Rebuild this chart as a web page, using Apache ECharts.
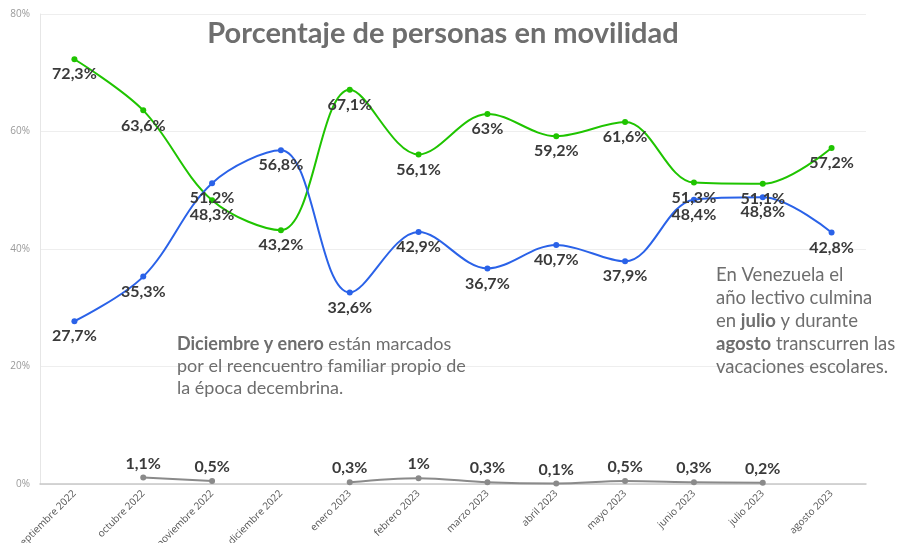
<!DOCTYPE html>
<html><head><meta charset="utf-8">
<script src="https://cdn.jsdelivr.net/npm/echarts@6/dist/echarts.min.js"></script>
<style>html,body{margin:0;padding:0;background:#fff}#c{width:911px;height:543px}</style>
</head><body><div id="c"></div>
<script>
const categories = ['septiembre 2022','octubre 2022','noviembre 2022','diciembre 2022','enero 2023','febrero 2023','marzo 2023','abril 2023','mayo 2023','junio 2023','julio 2023','agosto 2023'];
const greenValues = [72.3, 63.6, 48.3, 43.2, 67.1, 56.1, 63, 59.2, 61.6, 51.3, 51.1, 57.2];
const blueValues = [27.7, 35.3, 51.2, 56.8, 32.6, 42.9, 36.7, 40.7, 37.9, 48.4, 48.8, 42.8];
const grayValues = [null, 1.1, 0.5, null, 0.3, 1, 0.3, 0.1, 0.5, 0.3, 0.2, null];
const yTicks = [0, 20, 40, 60, 80];

const fmt = p => String(p.value).replace('.', ',') + '%';
const lbl = (pos, d) => ({show:true, position:pos, distance:d, formatter:fmt, fontFamily:'Lato', fontWeight:'bold', fontSize:16, color:'#3a3a3a'});

const chart = echarts.init(document.getElementById('c'));
chart.setOption({
  animation:false,
  title:{text:'Porcentaje de personas en movilidad', left:438, top:14, textAlign:'center',
    textStyle:{fontFamily:'Lato', fontWeight:'bold', fontSize:29, color:'#6e6e6e'}},
  grid:{left:40, right:45, top:14, bottom:59, outerBoundsMode:'none', containLabel:false},
  xAxis:{type:'category', data:categories, boundaryGap:true,
    axisLine:{lineStyle:{color:'#c8c8c8', width:1.5}},
    axisTick:{alignWithLabel:true, length:6, lineStyle:{color:'#c8c8c8'}},
    axisLabel:{rotate:45, fontFamily:'Open Sans', fontSize:10, color:'#555', interval:0, margin:8}},
  yAxis:{type:'value', min:yTicks[0], max:yTicks[yTicks.length-1], interval:20,
    axisLine:{show:true, lineStyle:{color:'#e6e6e6'}},
    axisTick:{show:false},
    splitLine:{lineStyle:{color:'#eeeeee'}},
    axisLabel:{formatter:v=>v+'%', fontFamily:'Open Sans', fontSize:10, color:'#9a9a9a', margin:10}},
  series:[
    {type:'line', data:greenValues, smooth:0.35, symbol:'circle', symbolSize:6,
      lineStyle:{color:'#1fc400', width:2}, itemStyle:{color:'#1fc400'}, label:lbl('bottom', 4)},
    {type:'line', data:blueValues, smooth:0.35, symbol:'circle', symbolSize:6,
      lineStyle:{color:'#2a62e8', width:2}, itemStyle:{color:'#2a62e8'}, label:lbl('bottom', 4)},
    {type:'line', data:grayValues, smooth:0.35, symbol:'circle', symbolSize:6, connectNulls:false,
      lineStyle:{color:'#8a8a8a', width:2}, itemStyle:{color:'#8a8a8a'}, label:lbl('top', 3)}
  ],
  graphic:[
    {type:'text', left:177, top:333, z:100, style:{
      text:'{b|Diciembre y enero} están marcados\npor el reencuentro familiar propio de\nla época decembrina.',
      rich:{b:{fontFamily:'Lato', fontWeight:'bold', fontSize:18, color:'#6e6e6e', lineHeight:22}},
      fontFamily:'Lato', fontSize:18, fill:'#6e6e6e', lineHeight:22}},
    {type:'text', left:716, top:264, z:100, style:{
      text:'En Venezuela el\naño lectivo culmina\nen {b|julio} y durante\n{b|agosto} transcurren las\nvacaciones escolares.',
      rich:{b:{fontFamily:'Lato', fontWeight:'bold', fontSize:18.5, color:'#6e6e6e', lineHeight:23}},
      fontFamily:'Lato', fontSize:18.5, fill:'#6e6e6e', lineHeight:23}}
  ]
});
</script></body></html>
